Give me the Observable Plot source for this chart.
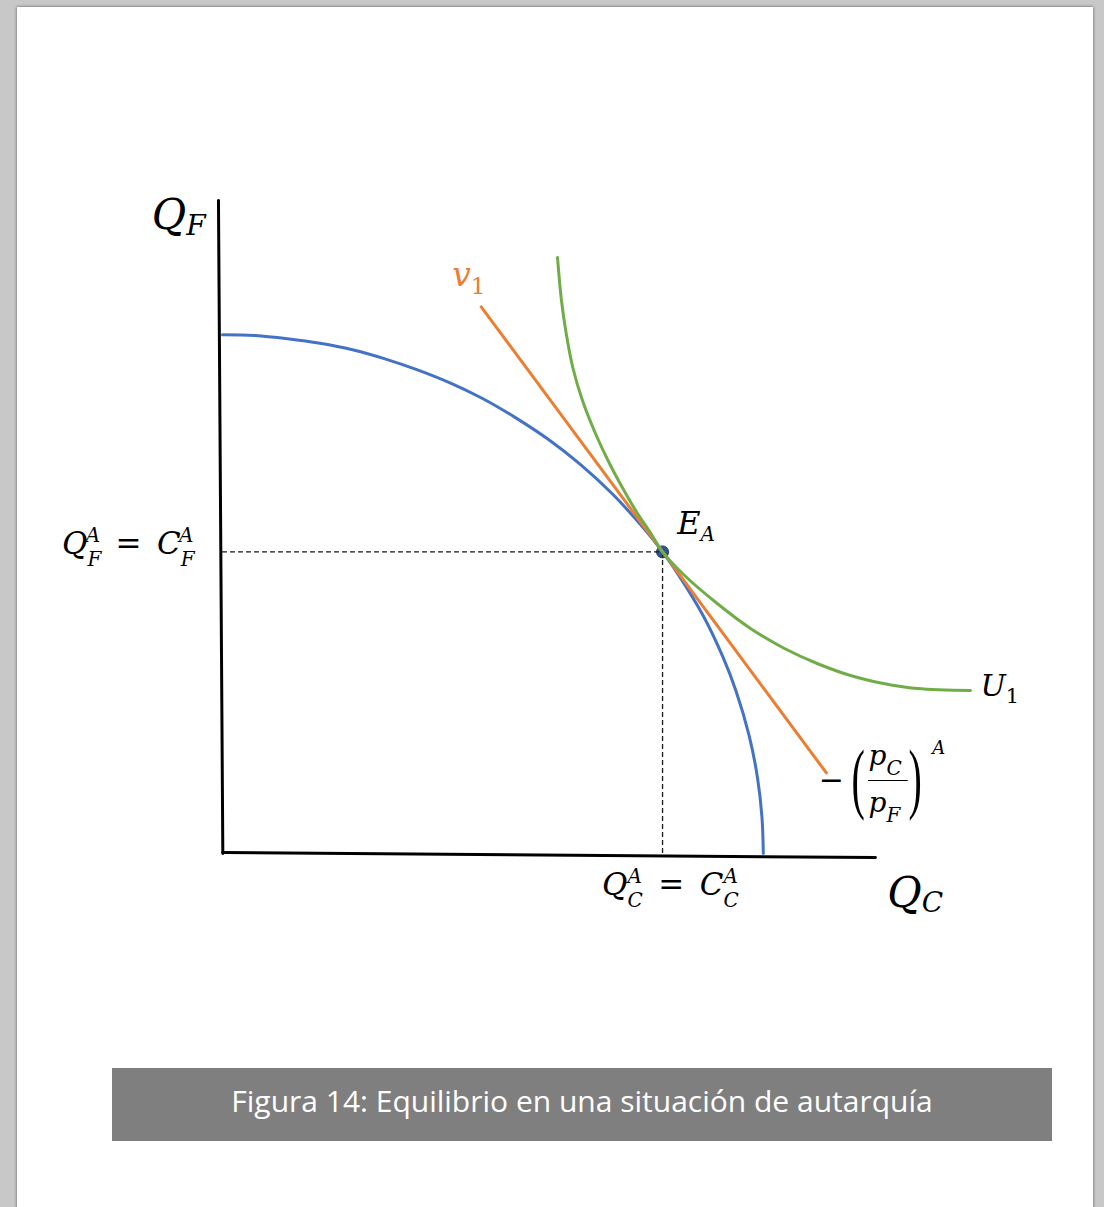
<!DOCTYPE html>
<html>
<head>
<meta charset="utf-8">
<script src="https://cdn.jsdelivr.net/npm/d3@7"></script>
<script src="https://cdn.jsdelivr.net/npm/@observablehq/plot@0.6"></script>
<style>
  html, body { margin: 0; padding: 0; overflow: hidden; }
  body { background: #c8c8c8; width: 1104px; height: 1207px; position: relative; }
  #page { position: absolute; left: 17px; top: 7px; width: 1076px; height: 1230px; background: #fff;
          box-shadow: 0 0 3px rgba(0,0,0,0.55); }
  #chart { position: absolute; left: 0; top: 0; }
  #caption { position: absolute; left: 112px; top: 1068px; width: 940px; height: 73px; background: #7f7f7f;
             color: #fff; font-family: "Open Sans", sans-serif; font-size: 30px; box-sizing: border-box;
             padding-bottom: 9px; display: flex; align-items: center; justify-content: center; }
</style>
</head>
<body>
<div id="page"></div>
<div id="chart"></div>
<div id="caption">Figura 14: Equilibrio en una situación de autarquía</div>
<script>
// Production possibility frontier (quantities of C and F)
const ppfQC = [0, 5, 10, 15, 20, 25, 30, 35, 40, 45, 50, 55, 60, 65, 67.7, 70, 74, 77, 79, 81, 82.3, 83, 83.2];
const ppfQF = [79.8, 79.7, 79.2, 78.5, 77.5, 76.1, 74.4, 72.4, 70.0, 67.1, 63.8, 59.9, 55.3, 49.8, 46.4, 43.1, 36.5, 30.2, 25.0, 18.2, 11.7, 5.5, 0];

// Indifference curve U1
const u1QC = [51.54, 52.15, 52.88, 53.89, 55.38, 57.38, 59.54, 61.77, 63.85, 65.62, 67.7, 70.92, 76.11, 81.23, 86.31, 91.49, 96.62, 101.69, 106.88, 115.08];
const u1QF = [91.69, 85.08, 80.0, 74.77, 69.69, 64.62, 60.0, 55.85, 52.31, 49.69, 46.4, 42.92, 38.46, 34.62, 31.62, 29.23, 27.38, 26.15, 25.38, 25.08];

// Relative price line v1 (slope -(pC/pF)^A)
const v1QC = [39.8, 92.9];
const v1QF = [84.1, 12.4];

// Autarky equilibrium E_A
const eqQC = 67.7;
const eqQF = 46.4;

// Hand-drawn axes (slightly tilted strokes)
const axisYQC = [-0.62, 0.05];
const axisYQF = [100.46, 0];
const axisXQC = [0.05, 100.46];
const axisXQF = [0.15, -0.62];

// Math labels: text with _{sub} and ^{sup} markup, anchored at baseline
const labelTex = ["Q_{F}", "Q_{F}^{A}\u2002=\u2002C_{F}^{A}", "v_{1}", "E_{A}", "U_{1}",
                  "−", "(", "p_{C}", "p_{F}", ")", "A",
                  "Q_{C}^{A}\u2002=\u2002C_{C}^{A}", "Q_{C}"];
const labelQC = [-2.6, -4.46, 35.34, 69.95, 116.6, 91.74, 96.77, 99.38, 99.38, 105.54, 109.2, 68.92, 102.26];
const labelQF = [96.15, 46.15, 87.38, 49.18, 24.3, 9.7, 7.69, 13.54, 6.31, 7.69, 15.38, -6.46, -8.23];

// Fraction bar of pC/pF
const barQC = [99.4, 105.5];
const barQF = 11.23;

// Typographic settings for each label (same order as labelTex)
const labelStyle = [
  {size: 42, script: 28, sub: 6, anchor: "end"},
  {size: 31, script: 20, sub: 12, sup: -12, anchor: "end"},
  {size: 33, script: 23, sub: 8, anchor: "start", color: "#ed7d31"},
  {size: 32, script: 20, sub: 7, anchor: "start"},
  {size: 30, script: 21, sub: 7, anchor: "start"},
  {size: 30, anchor: "start", upright: true},
  {size: 40, anchor: "start", upright: true, stretch: 1.95, family: "Liberation Serif"},
  {size: 28, script: 20, sub: 10, anchor: "start"},
  {size: 28, script: 20, sub: 10, anchor: "start"},
  {size: 40, anchor: "start", upright: true, stretch: 1.95, family: "Liberation Serif"},
  {size: 18, anchor: "start"},
  {size: 31, script: 20, sub: 12, sup: -12, anchor: "middle"},
  {size: 42, script: 28, sub: 5, anchor: "start"}
];

const zip = (xs, ys) => xs.map((qc, i) => ({qc, qf: ys[i]}));
const ppf = zip(ppfQC, ppfQF);
const u1 = zip(u1QC, u1QF);
const v1 = zip(v1QC, v1QF);
const axisY = zip(axisYQC, axisYQF);
const axisX = zip(axisXQC, axisXQF);
const labels = labelTex.map((tex, i) => ({tex, qc: labelQC[i], qf: labelQF[i]}));

const guide = {stroke: "#1a1a1a", strokeWidth: 1.3, strokeDasharray: "5,3"};

const chart = Plot.plot({
  width: 1104,
  height: 1000,
  style: {background: "transparent", overflow: "visible"},
  x: {domain: [0, 100], range: [222, 872], axis: null},
  y: {domain: [0, 100], range: [853, 203], axis: null},
  marks: [
    Plot.dot([{qc: eqQC, qf: eqQF}], {x: "qc", y: "qf", r: 6, fill: "#2f5597", stroke: "#1f3864", strokeWidth: 1}),
    Plot.ruleY([eqQF], {y: d => d, x1: 0, x2: eqQC, ...guide}),
    Plot.ruleX([eqQC], {x: d => d, y1: 0, y2: eqQF, ...guide}),
    Plot.line(axisY, {x: "qc", y: "qf", stroke: "#000", strokeWidth: 3}),
    Plot.line(axisX, {x: "qc", y: "qf", stroke: "#000", strokeWidth: 3}),
    Plot.line(ppf, {x: "qc", y: "qf", stroke: "#4472c4", strokeWidth: 3, curve: "catmull-rom"}),
    Plot.line(v1, {x: "qc", y: "qf", stroke: "#ed7d31", strokeWidth: 3}),
    Plot.line(u1, {x: "qc", y: "qf", stroke: "#70ad47", strokeWidth: 3, curve: "catmull-rom"}),
    Plot.ruleY([barQF], {y: d => d, x1: barQC[0], x2: barQC[1], stroke: "#000", strokeWidth: 1.2}),
    Plot.text(labels, {x: "qc", y: "qf", text: "tex", lineAnchor: "bottom", textAnchor: "start"})
  ]
});
document.getElementById("chart").appendChild(chart);

// Turn the _{..}/^{..} markup into tspans with sub- and superscripts
const SVGNS = "http://www.w3.org/2000/svg";
function parseTex(tex) {
  const segs = [];
  let run = "", i = 0;
  while (i < tex.length) {
    const c = tex[i];
    if ((c === "_" || c === "^") && tex[i + 1] === "{") {
      const close = tex.indexOf("}", i);
      const content = tex.slice(i + 2, close);
      if (run) { segs.push({kind: "base", text: run}); run = ""; }
      const last = segs[segs.length - 1];
      const key = c === "_" ? "sub" : "sup";
      if (last && last.kind === "script" && !(key in last)) last[key] = content;
      else segs.push({kind: "script", [key]: content});
      i = close + 1;
    } else { run += c; i++; }
  }
  if (run) segs.push({kind: "base", text: run});
  return segs;
}

function typeset(el, tex, st) {
  el.textContent = "";
  const family = st.family || "DejaVu Serif";
  el.setAttribute("text-anchor", st.anchor);
  el.setAttribute("fill", st.color || "#000");
  el.setAttribute("font-family", family);
  let cur = 0, pendingDx = 0;
  const span = (text, size, shift) => {
    const pieces = text.match(/[A-Za-z]+|[^A-Za-z]+/g) || [];
    let first = null;
    for (const p of pieces) {
      const t = document.createElementNS(SVGNS, "tspan");
      t.textContent = p;
      t.setAttribute("font-size", size);
      t.setAttribute("font-style", (!st.upright && /[A-Za-z]/.test(p)) ? "italic" : "normal");
      if (shift !== cur) { t.setAttribute("dy", shift - cur); cur = shift; }
      if (pendingDx) { t.setAttribute("dx", pendingDx); pendingDx = 0; }
      el.appendChild(t);
      if (!first) first = t;
    }
    return first;
  };
  for (const s of parseTex(tex)) {
    if (s.kind === "base") span(s.text, st.size, 0);
    else {
      let wSub = 0;
      if (s.sub != null) {
        const t = span(s.sub, st.script, st.sub);
        wSub = t.getComputedTextLength();
      }
      if (s.sup != null) {
        if (s.sub != null) pendingDx = -wSub;
        const t = span(s.sup, st.script, st.sup);
        const wSup = t.getComputedTextLength();
        if (s.sub != null && wSub > wSup) pendingDx = wSub - wSup;
      }
    }
  }
  if (st.stretch) {
    const tr = el.getAttribute("transform") || "";
    el.setAttribute("transform", `${tr} scale(1,${st.stretch})`);
  }
}

const textEls = chart.querySelectorAll('g[aria-label="text"] text');
textEls.forEach((el, i) => typeset(el, labels[i].tex, labelStyle[i]));
</script>
</body>
</html>
